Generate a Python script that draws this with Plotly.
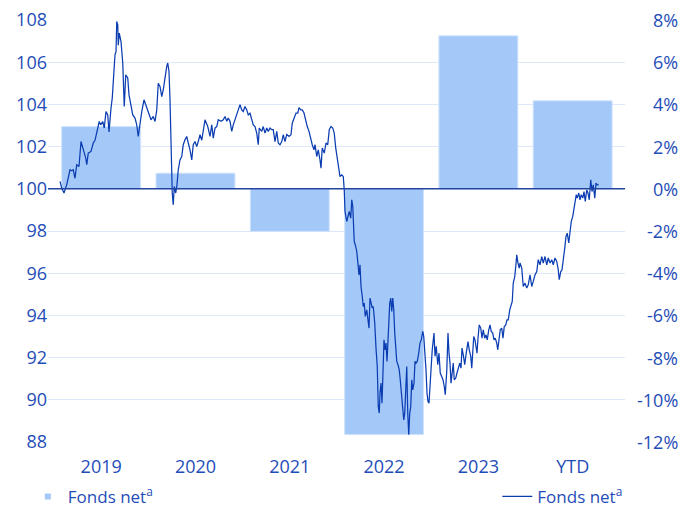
import pandas as pd
import plotly.graph_objects as go

# ---------------- data ----------------
categories = ["2019", "2020", "2021", "2022", "2023", "YTD"]
annual_pct = [2.95, 0.74, -2.02, -11.65, 7.25, 4.17]
base_index = 100
start_date = "2019-01-01"

line_days = [
    0, 7, 16, 27, 40, 47, 53, 60, 67, 76,
    84, 93, 103, 107, 113, 124, 133, 140, 149, 157,
    163, 171, 177, 184, 191, 196, 204, 209, 217, 220,
    224, 227, 231, 233, 237, 244, 251, 257, 263, 271,
    276, 284, 291, 300, 307, 313, 320, 327, 336, 347,
    356, 364, 373, 380, 387, 393, 400, 407, 413, 420,
    427, 431, 436, 440, 443, 444, 449, 453, 457, 463,
    468, 473, 480, 487, 493, 500, 507, 513, 520, 527,
    533, 540, 547, 553, 560, 567, 573, 580, 591, 600,
    607, 613, 620, 627, 633, 644, 653, 660, 667, 673,
    680, 687, 693, 703, 713, 720, 727, 733, 740, 747,
    753, 760, 767, 773, 780, 787, 793, 797, 807, 813,
    820, 827, 833, 840, 847, 853, 860, 867, 873, 880,
    887, 893, 900, 907, 916, 924, 929, 937, 944, 951,
    956, 963, 969, 976, 983, 989, 996, 1003, 1009, 1016,
    1020, 1027, 1033, 1040, 1044, 1049, 1057, 1064, 1071, 1077,
    1084, 1091, 1097, 1103, 1109, 1116, 1120, 1127, 1133, 1137,
    1140, 1147, 1152, 1157, 1163, 1167, 1171, 1173, 1177, 1183,
    1187, 1191, 1196, 1200, 1204, 1209, 1213, 1217, 1221, 1227,
    1232, 1236, 1240, 1245, 1249, 1253, 1259, 1264, 1269, 1273,
    1277, 1280, 1284, 1288, 1292, 1296, 1300, 1304, 1308, 1313,
    1319, 1323, 1327, 1331, 1335, 1339, 1343, 1347, 1352, 1357,
    1361, 1367, 1371, 1375, 1379, 1383, 1387, 1391, 1395, 1399,
    1403, 1407, 1411, 1416, 1420, 1424, 1429, 1435, 1440, 1445,
    1451, 1455, 1460, 1464, 1468, 1472, 1476, 1480, 1484, 1489,
    1496, 1500, 1505, 1511, 1516, 1521, 1527, 1532, 1537, 1541,
    1547, 1552, 1556, 1560, 1564, 1569, 1573, 1577, 1583, 1588,
    1593, 1599, 1604, 1608, 1613, 1619, 1623, 1628, 1632, 1637,
    1643, 1647, 1651, 1655, 1660, 1664, 1668, 1672, 1677, 1683,
    1688, 1693, 1699, 1704, 1709, 1715, 1720, 1725, 1731, 1736,
    1741, 1747, 1751, 1756, 1761, 1767, 1772, 1777, 1783, 1788,
    1793, 1799, 1804, 1809, 1813, 1819, 1823, 1827, 1832, 1837,
    1840, 1847, 1853, 1860, 1867, 1873, 1880, 1887, 1893, 1900,
    1907, 1913, 1920, 1927, 1933, 1940, 1947, 1953, 1960, 1967,
    1973, 1980, 1987, 1993, 1997, 2003, 2008, 2013, 2019, 2024,
    2029, 2035, 2040, 2045, 2051, 2056, 2061, 2065, 2069, 2075,
    2080, 2085, 2091, 2096, 2101, 2107, 2112, 2117, 2123, 2128,
    2133, 2139, 2144, 2149, 2155,
]
line_values = [
    100.35, 100.03, 99.80, 100.20, 100.90, 100.85, 100.90, 100.50, 101.14, 101.06,
    102.24, 101.85, 101.45, 101.14, 101.69, 101.77, 102.17, 102.30, 102.80, 103.19,
    103.03, 103.19, 102.88, 103.66, 103.50, 102.70, 103.82, 104.30, 105.80, 106.35,
    106.50, 107.93, 107.77, 106.80, 107.38, 106.98, 105.96, 103.90, 105.40, 105.25,
    104.45, 103.98, 103.50, 103.35, 103.03, 102.48, 103.20, 103.66, 104.22, 103.82,
    103.59, 103.27, 103.43, 103.19, 103.74, 105.00, 104.85, 104.37, 104.69, 105.32,
    105.80, 105.96, 105.56, 104.22, 102.48, 101.06, 99.80, 99.24, 100.11, 99.80,
    100.19, 100.90, 101.37, 101.53, 102.09, 102.32, 102.48, 102.17, 101.85, 101.37,
    102.09, 102.24, 102.00, 102.24, 102.56, 102.30, 102.80, 103.27, 102.95, 102.48,
    103.03, 102.40, 102.88, 102.95, 103.27, 103.20, 103.27, 103.43, 103.20, 103.35,
    103.20, 102.72, 103.03, 103.43, 103.74, 103.98, 103.74, 103.66, 103.90, 103.74,
    103.50, 103.58, 103.27, 103.03, 102.95, 102.64, 102.09, 102.88, 102.72, 102.95,
    102.64, 102.88, 102.72, 102.88, 102.80, 102.80, 102.24, 102.72, 102.17, 102.09,
    102.24, 102.56, 102.24, 102.58, 102.48, 102.56, 103.11, 103.43, 103.59, 103.59,
    103.85, 103.74, 103.74, 103.59, 103.19, 102.95, 102.72, 102.32, 102.09, 101.85,
    102.09, 101.53, 101.85, 101.37, 100.98, 101.93, 101.69, 102.17, 102.09, 102.80,
    102.95, 102.88, 102.64, 101.93, 101.45, 100.90, 100.58, 100.66, 100.58, 99.95,
    98.93, 98.45, 98.69, 98.93, 98.61, 99.48, 99.17, 98.21, 97.50, 97.26,
    97.03, 96.55, 95.92, 96.40, 95.37, 94.90, 94.42, 94.58, 93.95, 94.26,
    93.79, 93.40, 94.82, 94.58, 94.35, 94.42, 93.63, 92.45, 91.58, 89.68,
    89.37, 90.32, 90.79, 89.84, 92.21, 92.84, 92.37, 92.69, 91.82, 93.16,
    94.58, 94.82, 94.19, 94.82, 94.26, 93.16, 92.37, 91.82, 91.66, 91.42,
    90.95, 90.24, 89.53, 89.05, 89.37, 90.32, 91.58, 89.37, 88.34, 89.37,
    89.68, 90.95, 90.47, 90.79, 91.82, 91.74, 91.82, 92.21, 92.69, 92.84,
    93.24, 93.00, 92.21, 91.42, 90.32, 89.92, 89.84, 90.95, 91.42, 92.37,
    93.16, 92.06, 92.53, 91.66, 92.21, 91.27, 91.11, 90.95, 90.63, 90.24,
    91.35, 93.16, 92.21, 91.74, 90.79, 91.27, 91.74, 90.95, 91.03, 91.27,
    91.50, 91.74, 91.50, 92.45, 92.13, 91.66, 92.06, 92.37, 92.76, 92.37,
    92.06, 91.50, 92.37, 93.00, 92.84, 92.53, 92.21, 92.92, 93.55, 93.40,
    92.92, 93.32, 92.92, 93.08, 92.84, 93.32, 93.55, 93.24, 93.16, 92.84,
    92.92, 92.69, 92.37, 92.84, 93.32, 93.40, 92.92, 93.47, 93.55, 93.79,
    93.79, 94.26, 94.42, 94.66, 95.53, 95.84, 96.32, 96.87, 96.48, 96.24,
    96.48, 96.24, 95.37, 95.53, 95.30, 95.45, 95.92, 95.37, 95.61, 95.92,
    96.08, 96.64, 96.40, 96.79, 96.48, 96.79, 96.40, 96.72, 96.48, 96.64,
    96.40, 96.72, 96.56, 96.16, 95.69, 96.08, 96.16, 96.79, 97.19, 97.74,
    97.90, 97.43, 97.98, 98.45, 98.69, 99.08, 99.40, 99.72, 99.56, 99.80,
    99.48, 99.72, 99.56, 99.87, 99.40, 99.95, 99.80, 99.48, 100.43, 99.87,
    100.19, 99.56, 100.27, 100.19, 100.19,
]

left_ticks = [88, 90, 92, 94, 96, 98, 100, 102, 104, 106, 108]
right_ticks = [-12, -10, -8, -6, -4, -2, 0, 2, 4, 6, 8]
series_name = "Fonds net<sup>a</sup>"

# ---------------- styling ----------------
FONT = "Open Sans"
TEXT = "#1f4db8"
BAR = "#a4c9f9"
LINE = "#0b3db2"
GRID = "#dde9fb"
ZERO = "#23449e"

dates = pd.Timestamp(start_date) + pd.to_timedelta(line_days, unit="D")

fig = go.Figure()

fig.add_trace(go.Bar(
    x=categories, y=annual_pct, base=base_index,
    marker=dict(color=BAR, line=dict(color="#d0e3fc", width=1)),
    width=0.837, showlegend=False, hoverinfo="skip",
))
fig.add_trace(go.Scatter(
    x=[None], y=[None], mode="markers",
    marker=dict(symbol="square", size=6, color=BAR),
    name=series_name, legend="legend",
))
fig.add_trace(go.Scatter(
    x=dates, y=line_values, xaxis="x2", yaxis="y",
    mode="lines", line=dict(color=LINE, width=1.25),
    name=series_name, legend="legend2",
))

fig.add_shape(type="line", xref="paper", x0=0, x1=1, yref="y", y0=base_index, y1=base_index,
              line=dict(color=ZERO, width=1.5), layer="above")

for t in right_ticks:
    fig.add_annotation(
        xref="paper", x=1.0953, xanchor="right", yref="y2", y=t, yanchor="middle",
        text=f"{t}%", showarrow=False, font=dict(family=FONT, size=18, color=TEXT),
    )

fig.update_layout(
    width=684, height=509,
    margin=dict(l=48, r=59, t=20, b=67, autoexpand=False),
    paper_bgcolor="white", plot_bgcolor="white",
    font=dict(family=FONT, size=18, color=TEXT),
    xaxis=dict(type="category", range=[-0.564, 5.555], showgrid=False, zeroline=False,
               showline=False, ticks="", ticklabelstandoff=12,
               tickfont=dict(size=18, color=TEXT)),
    xaxis2=dict(overlaying="x", type="date", range=["2018-11-14", "2025-03-10"], visible=False),
    yaxis=dict(range=[88, 108], tickvals=left_ticks, showgrid=True, gridcolor=GRID, gridwidth=1,
               zeroline=False, showline=False, ticks="", tickfont=dict(size=18, color=TEXT)),
    yaxis2=dict(overlaying="y", side="right", range=[-12, 8], showgrid=False, zeroline=False,
                showticklabels=False, showline=False),
    legend=dict(orientation="h", x=-0.035, xanchor="left", y=-0.13, yanchor="middle",
                font=dict(family=FONT, size=17, color=TEXT), bgcolor="rgba(0,0,0,0)"),
    legend2=dict(orientation="h", x=1.004, xanchor="right", y=-0.13, yanchor="middle",
                 font=dict(family=FONT, size=17, color=TEXT), bgcolor="rgba(0,0,0,0)"),
    showlegend=True,
)

fig.write_html("out.html")
